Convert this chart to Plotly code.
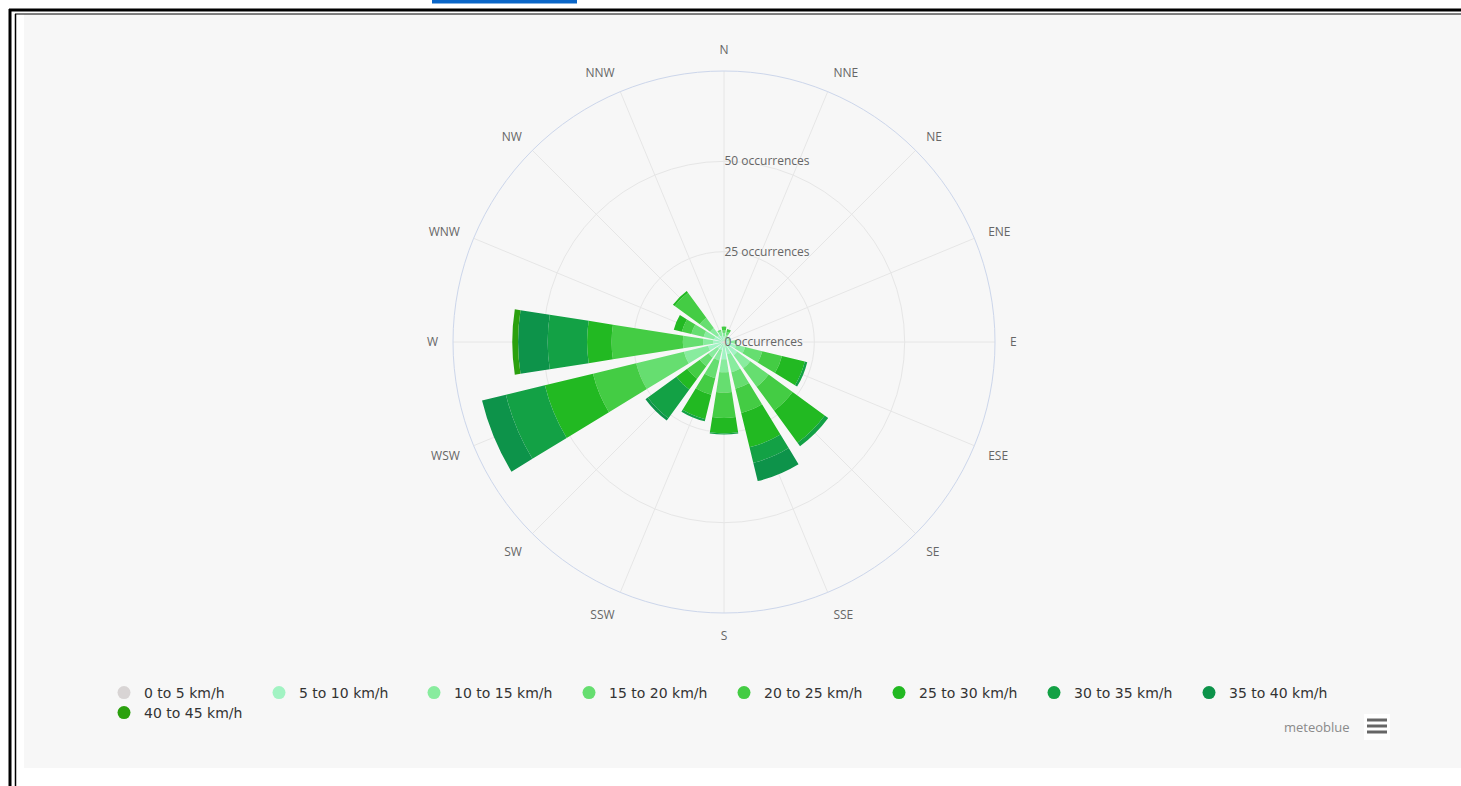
import plotly.graph_objects as go

# ---------------- data ----------------
directions = ["N", "NNE", "NE", "ENE", "E", "ESE", "SE", "SSE",
              "S", "SSW", "SW", "WSW", "W", "WNW", "NW", "NNW"]

speed_bins = ["0 to 5 km/h", "5 to 10 km/h", "10 to 15 km/h", "15 to 20 km/h",
              "20 to 25 km/h", "25 to 30 km/h", "30 to 35 km/h", "35 to 40 km/h",
              "40 to 45 km/h"]

occ_0_5   = [0.3, 0.3, 0.3, 0.3, 0.3, 0.5, 0.5, 0.5, 0.8, 0.3, 0.3, 0.8, 0.5, 0.3, 0.3, 0.3]
occ_5_10  = [1.2, 1.0, 1.0, 1.0, 1.5, 3.0, 4.0, 3.0, 4.0, 2.0, 2.0, 3.7, 2.5, 2.5, 2.0, 1.5]
occ_10_15 = [1.0, 0.8, 0.5, 0.7, 1.2, 2.5, 4.5, 5.1, 3.6, 3.0, 3.0, 6.9, 2.8, 3.0, 2.5, 1.2]
occ_15_20 = [0.8, 0.8, 0.0, 0.0, 0.5, 4.9, 6.3, 4.7, 5.6, 5.0, 3.0, 13.6, 5.6, 3.5, 3.5, 0.5]
occ_20_25 = [1.0, 0.8, 0.0, 0.0, 0.0, 5.6, 8.2, 6.9, 7.0, 4.7, 4.3, 12.3, 19.7, 2.7, 8.6, 0.0]
occ_25_30 = [0.0, 0.0, 0.0, 0.0, 0.0, 6.5, 11.0, 9.8, 4.3, 7.0, 3.7, 13.7, 6.8, 2.3, 0.6, 0.0]
occ_30_35 = [0.0, 0.0, 0.0, 0.0, 0.0, 0.7, 1.2, 4.4, 0.3, 0.6, 9.8, 11.1, 10.9, 0.0, 0.0, 0.0]
occ_35_40 = [0.0, 0.0, 0.0, 0.0, 0.0, 0.0, 0.0, 5.2, 0.0, 0.0, 0.8, 6.8, 8.2, 0.0, 0.0, 0.0]
occ_40_45 = [0.0, 0.0, 0.0, 0.0, 0.0, 0.0, 0.0, 0.0, 0.0, 0.0, 0.0, 0.0, 1.6, 0.0, 0.0, 0.0]

series = [occ_0_5, occ_5_10, occ_10_15, occ_15_20, occ_20_25,
          occ_25_30, occ_30_35, occ_35_40, occ_40_45]

colors = ["#d8d4d4", "#a2f3c3", "#88ec9e", "#66de70", "#44cc44",
          "#22b922", "#13a145", "#0d934a", "#2ba00e"]

radial_ticks = [0, 25, 50]
radial_ticktext = ["0 occurrences", "25 occurrences", "50 occurrences"]

# ---------------- figure ----------------
W, H = 1461, 786
fig = go.Figure()

for name, vals, col in zip(speed_bins, series, colors):
    fig.add_trace(go.Barpolar(
        r=vals, theta=directions, name=name, width=0.79,
        marker=dict(color=col, line=dict(width=0)),
        legendgroup=name, showlegend=False,
    ))

legend_ids = ["legend"] * 4 + ["legend2"] * 4 + ["legend3"]
for name, col, lg in zip(speed_bins, colors, legend_ids):
    fig.add_trace(go.Scatterpolar(
        r=[None], theta=[directions[0]], mode="markers", name=name,
        marker=dict(color=col, size=13, symbol="circle"),
        legendgroup=name, showlegend=True, legend=lg,
    ))

def px_x(x):
    return x / W

def px_y(y):
    return 1 - y / H

leg_common = dict(orientation="h", xanchor="left", yanchor="top",
                  entrywidth=110, entrywidthmode="pixels",
                  font=dict(family="DejaVu Sans, sans-serif", size=14, color="#333333"),
                  bgcolor="rgba(0,0,0,0)", itemsizing="trace")

fig.update_layout(
    width=W, height=H,
    margin=dict(l=0, r=0, t=0, b=0),
    paper_bgcolor="white",
    plot_bgcolor="white",
    font=dict(family="Open Sans, Noto Sans, sans-serif", color="#666666"),
    polar=dict(
        domain=dict(x=[px_x(453), px_x(995)], y=[px_y(613), px_y(71)]),
        bgcolor="rgba(0,0,0,0)",
        barmode="stack",
        angularaxis=dict(
            rotation=90, direction="clockwise",
            categoryorder="array", categoryarray=directions,
            showline=True, linecolor="#ccd6eb", linewidth=1,
            showgrid=True, gridcolor="#e6e6e6", gridwidth=1,
            ticks="outside", ticklen=12, tickcolor="rgba(0,0,0,0)",
            tickfont=dict(size=12, color="#666666"),
        ),
        radialaxis=dict(
            range=[0, 75], angle=90, side="clockwise",
            tickvals=radial_ticks, ticktext=radial_ticktext,
            tickangle=90,
            showline=False, showgrid=True, gridcolor="#e6e6e6", gridwidth=1,
            ticks="", tickfont=dict(size=12, color="#666666"),
        ),
    ),
    legend=dict(x=px_x(104), y=px_y(677), **leg_common),
    legend2=dict(x=px_x(104 + 620), y=px_y(677), **leg_common),
    legend3=dict(x=px_x(104), y=px_y(697), **leg_common),
)

shapes = [
    dict(type="rect", xref="paper", yref="paper", layer="below",
         x0=px_x(24), x1=1, y0=px_y(768), y1=px_y(14),
         fillcolor="#f7f7f7", line=dict(width=0)),
    dict(type="line", xref="paper", yref="paper", x0=px_x(9), x1=1,
         y0=px_y(10), y1=px_y(10), line=dict(color="black", width=3)),
    dict(type="line", xref="paper", yref="paper", x0=px_x(10), x1=px_x(10),
         y0=0, y1=px_y(9), line=dict(color="black", width=3)),
    dict(type="line", xref="paper", yref="paper", x0=px_x(15.5), x1=px_x(15.5),
         y0=0, y1=px_y(14), line=dict(color="black", width=1.5)),
    dict(type="line", xref="paper", yref="paper", x0=px_x(15), x1=1,
         y0=px_y(14), y1=px_y(14), line=dict(color="black", width=1)),
    dict(type="rect", xref="paper", yref="paper",
         x0=px_x(432), x1=px_x(577), y0=px_y(3.5), y1=1,
         fillcolor="#0a66c8", line=dict(width=0)),
    dict(type="rect", xref="paper", yref="paper",
         x0=px_x(1364), x1=px_x(1390), y0=px_y(740), y1=px_y(714),
         fillcolor="white", line=dict(width=0)),
]
for yy in (720, 726, 732):
    shapes.append(dict(type="line", xref="paper", yref="paper",
                       x0=px_x(1367), x1=px_x(1387), y0=px_y(yy), y1=px_y(yy),
                       line=dict(color="#666666", width=3)))
fig.update_layout(shapes=shapes)

fig.add_annotation(text="meteoblue", xref="paper", yref="paper",
                   x=px_x(1352), y=px_y(727), xanchor="right", yanchor="middle",
                   showarrow=False, font=dict(size=13, color="#8a8a8a"))

fig.write_html("out.html", config={"displayModeBar": False},
               post_script="document.body.style.margin='0px';")
